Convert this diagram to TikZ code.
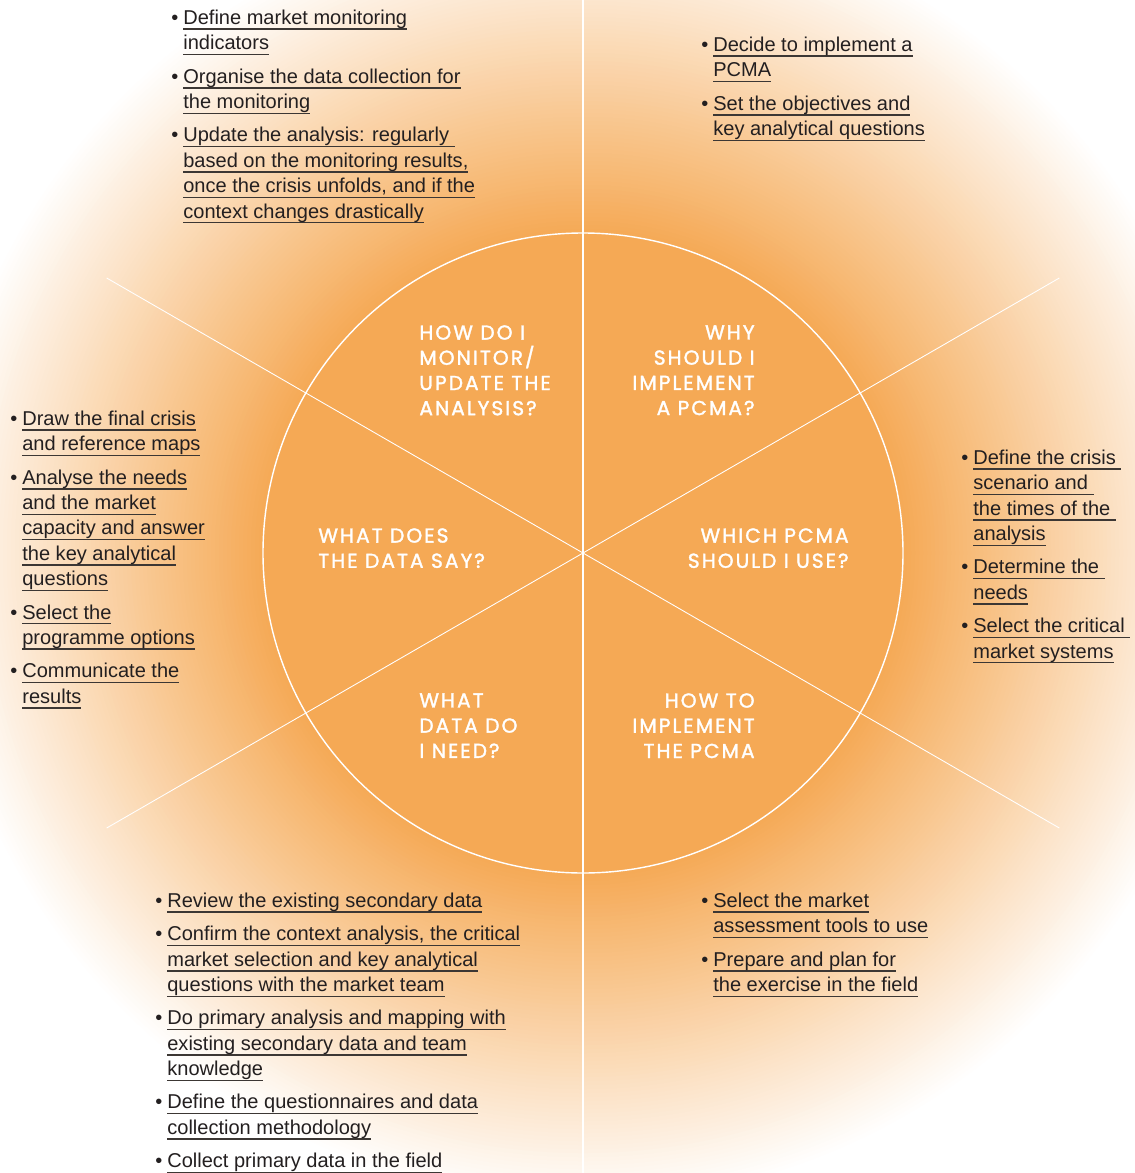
\documentclass[tikz,border=0pt]{standalone}
\usepackage{fontspec}
\setmainfont{Liberation Sans}
\newfontfamily\headfont[FakeBold=1.6, LetterSpace=10]{Poppins}
\usetikzlibrary{positioning}

\definecolor{pcmaorange}{HTML}{F5A955}
\definecolor{rulegray}{HTML}{3C3734}
\definecolor{inkblack}{HTML}{231F20}

% underlined line of a task list, bullet in the margin
\newcommand\ul[1]{\setbox0=\hbox{#1}\rlap{\smash{\color{rulegray}\rule[-3.1pt]{\wd0}{0.8pt}}}\box0}
\newcommand\itm{\llap{\textbullet\kern0.25em}}

\begin{document}
\begin{tikzpicture}[x=0.02cm, y=-0.02cm,
    spoke/.style={white, line width=0.5pt},
    question/.style={font=\headfont\fontsize{11.5}{14.35}\selectfont, text=white, inner sep=0},
    tasklist/.style={font=\fontsize{11.4}{14.46}\selectfont, text=inkblack, align=left,
      inner sep=0, anchor=north west}]
  \useasboundingbox (0,0) rectangle (1134,1173);
  \fill[white] (0,0) rectangle (1134,1173);

  % wheel, with an orange halo fading out to white
  \coordinate (C) at (583,553);
  \foreach \r in {652,648,...,324} {
    \pgfmathsetmacro\p{(652-\r)/3.32}
    \fill[pcmaorange!\p!white] (C) circle (\r);
  }
  \fill[pcmaorange] (C) circle (320);
  \draw[white, line width=0.8pt] (C) circle (320);
  \draw[spoke, line width=0.8pt] (583,0) -- (583,1173);
  \foreach \a in {30,150,210,330}
    \draw[spoke] (C) -- +(\a:550);

  % questions in the six sectors
  \node[question, anchor=north west, align=left] (hdmonitor) at (419,325)
    {HOW DO I\\MONITOR/\\UPDATE THE\\ANALYSIS?};
  \node[question, anchor=north east, align=right] (hdwhy) at (755,325)
    {WHY\\SHOULD I\\IMPLEMENT\\A PCMA?};
  \node[question, anchor=north west, align=left] (hdsay) at (318,528)
    {WHAT DOES\\THE DATA SAY?};
  \node[question, anchor=north east, align=right] (hdwhich) at (849,528)
    {WHICH PCMA\\SHOULD I USE?};
  \node[question, anchor=north west, align=left] (hdneed) at (419,693)
    {WHAT\\DATA DO\\I NEED?};
  \node[question, anchor=north east, align=right] (hdhow) at (755,693)
    {HOW TO\\IMPLEMENT\\THE PCMA};

  % task lists
  \node[tasklist] (lstmonitor) at (183,9.5) {%
    \itm\ul{Define market monitoring}\\ \ul{indicators}\\[4.5pt]
    \itm\ul{Organise the data collection for}\\ \ul{the monitoring}\\[4.5pt]
    \itm\ul{Update the analysis: regularly\ }\\ \ul{based on the monitoring results,}\\
    \ul{once the crisis unfolds, and if the}\\ \ul{context changes drastically}};
  \node[tasklist] (lstwhy) at (713,36.5) {%
    \itm\ul{Decide to implement a}\\ \ul{PCMA}\\[4.5pt]
    \itm\ul{Set the objectives and}\\ \ul{key analytical questions}};
  \node[tasklist] (lstsay) at (22,410.5) {%
    \itm\ul{Draw the final crisis}\\ \ul{and reference maps}\\[4.5pt]
    \itm\ul{Analyse the needs}\\ \ul{and the market}\\ \ul{capacity and answer}\\
    \ul{the key analytical}\\ \ul{questions}\\[4.5pt]
    \itm\ul{Select the}\\ \ul{programme options}\\[4.5pt]
    \itm\ul{Communicate the}\\ \ul{results}};
  \node[tasklist] (lstwhich) at (973,449.5) {%
    \itm\ul{Define the crisis\ }\\ \ul{scenario and\ }\\ \ul{the times of the\ }\\
    \ul{analysis}\\[4.5pt]
    \itm\ul{Determine the\ }\\ \ul{needs}\\[4.5pt]
    \itm\ul{Select the critical\ }\\ \ul{market systems}};
  \node[tasklist] (lstneed) at (167,892.5) {%
    \itm\ul{Review the existing secondary data}\\[4.5pt]
    \itm\ul{Confirm the context analysis, the critical}\\
    \ul{market selection and key analytical}\\ \ul{questions with the market team}\\[4.5pt]
    \itm\ul{Do primary analysis and mapping with}\\ \ul{existing secondary data and team}\\
    \ul{knowledge}\\[4.5pt]
    \itm\ul{Define the questionnaires and data}\\ \ul{collection methodology}\\[4.5pt]
    \itm\ul{Collect primary data in the field}};
  \node[tasklist] (lsthow) at (713,892.5) {%
    \itm\ul{Select the market}\\ \ul{assessment tools to use}\\[4.5pt]
    \itm\ul{Prepare and plan for}\\ \ul{the exercise in the field}};
\end{tikzpicture}
\end{document}
